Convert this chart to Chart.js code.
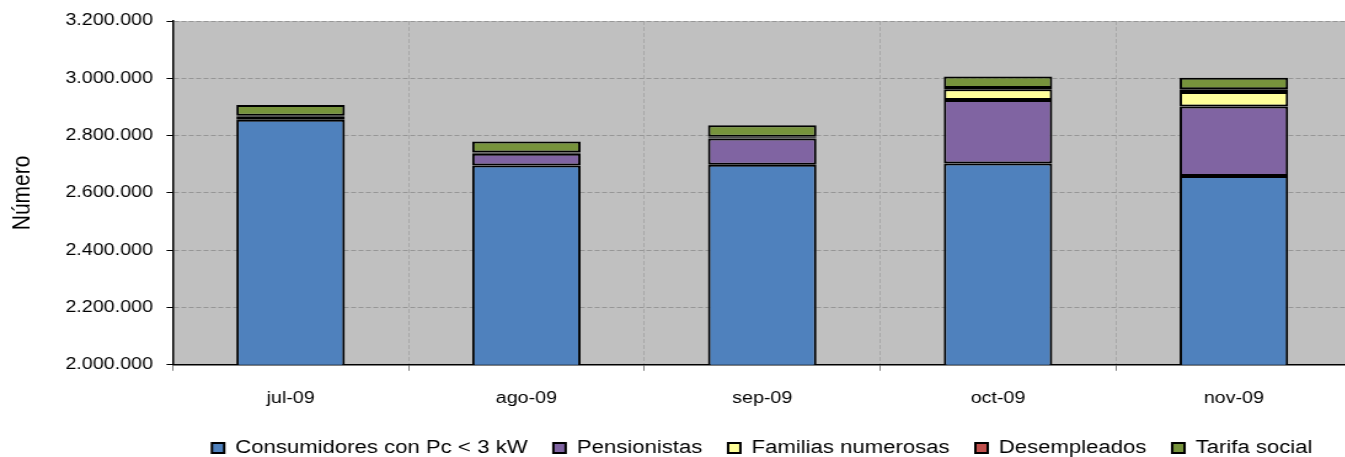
<!DOCTYPE html>
<html>
<head>
<meta charset="utf-8">
<title>Número de consumidores</title>
<script src="https://cdn.jsdelivr.net/npm/chart.js@4"></script>
<style>
  html, body { margin: 0; padding: 0; background: #fff; overflow: hidden; }
  /* the chart is drawn narrow and widened, like the original spreadsheet export */
  #wrap { width: 1110px; height: 467px; transform: scaleX(1.23); transform-origin: 0 0; }
</style>
</head>
<body>
<div id="wrap"><canvas id="chart" width="1110" height="467"></canvas></div>
<script>
const months = ["jul-09", "ago-09", "sep-09", "oct-09", "nov-09"];

const consumidores = [2855000, 2696000, 2698000, 2703000, 2659000];
const pensionistas = [10000, 41000, 92000, 221000, 243000];
const familias = [2500, 2500, 4000, 38000, 50000];
const desempleados = [1500, 1500, 2000, 4000, 10000];
const tarifaSocial = [38000, 38000, 40000, 40000, 40000];

const yMin = 2000000;
const yMax = 3200000;
const yStep = 200000;

const FONT = "'Liberation Sans', Arial, sans-serif";

function formatNumber(v) {
  return String(Math.round(v)).replace(/\B(?=(\d{3})+(?!\d))/g, ".");
}

function series(label, data, color) {
  return {
    label,
    data,
    backgroundColor: color,
    borderColor: "#000",
    borderWidth: 2,
    borderSkipped: false,
    barPercentage: 0.46,
    categoryPercentage: 1,
  };
}

// grey plot area behind the bars
const plotBackground = {
  id: "plotBackground",
  beforeDraw(chart) {
    const { ctx, chartArea: a } = chart;
    ctx.save();
    ctx.fillStyle = "#c0c0c0";
    ctx.fillRect(a.left, a.top, a.right - a.left, a.bottom - a.top);
    ctx.restore();
  },
};

new Chart(document.getElementById("chart"), {
  type: "bar",
  data: {
    labels: months,
    datasets: [
      series("Consumidores con Pc < 3 kW", consumidores, "#4f81bd"),
      series("Pensionistas", pensionistas, "#8064a2"),
      series("Familias numerosas", familias, "#ffff99"),
      series("Desempleados", desempleados, "#c0504d"),
      series("Tarifa social", tarifaSocial, "#77933c"),
    ],
  },
  options: {
    responsive: false,
    animation: false,
    layout: { padding: { top: 21, right: 11, left: 0, bottom: 0 } },
    plugins: {
      tooltip: { enabled: false },
      legend: {
        position: "bottom",
        fullSize: false,
        labels: {
          color: "#000",
          font: { family: FONT, size: 18 },
          boxWidth: 10,
          boxHeight: 10,
          padding: 21,
        },
      },
    },
    scales: {
      x: {
        stacked: true,
        grid: {
          color: "#a8a8a8",
          tickColor: "#808080",
          tickLength: 6,
          lineWidth: 1,
        },
        border: { color: "#000", width: 1.5, dash: [4, 2] },
        ticks: { color: "#000", font: { family: FONT, size: 16 }, padding: 18 },
        afterFit(scale) {
          scale.height -= 8;
        },
      },
      y: {
        stacked: true,
        min: yMin,
        max: yMax,
        grid: {
          color: "#969696",
          tickColor: "#000",
          tickLength: 5,
        },
        border: { color: "#000", width: 1.5, dash: [4, 2] },
        ticks: {
          stepSize: yStep,
          color: "#000",
          font: { family: FONT, size: 16 },
          padding: 11,
          callback: (v) => formatNumber(v),
        },
        title: {
          display: true,
          text: "Número",
          color: "#000",
          font: { family: FONT, size: 21 },
          padding: { top: 6, bottom: 11 },
        },
      },
    },
  },
  plugins: [plotBackground],
});
</script>
</body>
</html>
